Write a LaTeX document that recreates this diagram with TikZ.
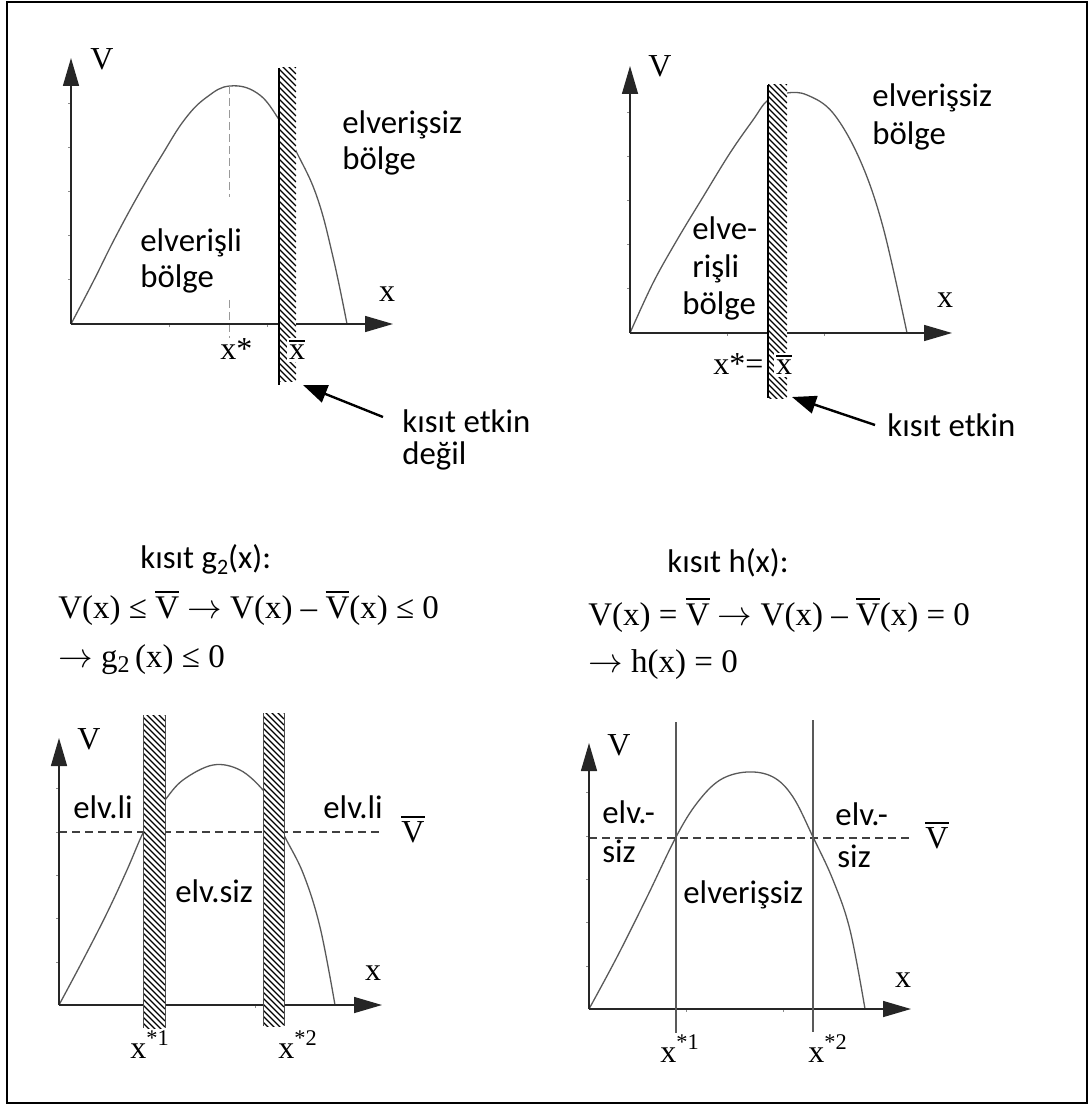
\documentclass[tikz,border=0pt]{standalone}
\usepackage{fontspec}
\setmainfont{Liberation Serif}
\newfontfamily\sansf{Carlito}
\usetikzlibrary{arrows.meta}

\newcommand{\barred}[1]{\leavevmode\setbox0\hbox{#1}\rlap{\raisebox{\dimexpr\ht0+1.6pt\relax}{\rule{\wd0}{0.9pt}}}\box0}
\newcommand{\lowtwo}{\raisebox{-0.35ex}{\fontsize{12}{12}\selectfont 2}}
\newcommand{\rarr}{\ensuremath{\rightarrow}}

\tikzset{
 px/.style={x=0.5pt,y=-0.5pt},
 axis/.style={draw=black!85, line width=0.75pt, -{Triangle[length=14pt,width=8pt]}},
 curve/.style={draw=black!65, line width=0.65pt},
 tickmark/.style={draw=black!45, line width=0.5pt},
 hatchline/.style={draw=black, line width=0.65pt},
 wall/.style={draw=black, line width=1.25pt},
 bandedge/.style={draw=black!70, line width=0.4pt},
 lbl/.style={font=\sansf\fontsize{16.4}{18}\selectfont, inner sep=0pt, anchor=base west},
 mlbl/.style={font=\fontsize{16}{18}\selectfont, inner sep=0pt, anchor=base},
 mlblw/.style={font=\fontsize{16}{18}\selectfont, inner sep=0pt, anchor=base west},
 frm/.style={font=\fontsize{16.5}{18}\selectfont, inner sep=0pt, anchor=base west},
 guide/.style={draw=black!40, line width=0.5pt, dash pattern=on 4pt off 2pt},
 vbar/.style={draw=black!75, line width=0.6pt, dash pattern=on 4pt off 2.5pt},
 pointer/.style={draw=black, line width=1.2pt, -{Triangle[length=12pt,width=9pt]}},
 vline/.style={draw=black!65, line width=0.8pt},
}

\newcommand{\hatchband}[4]{%
 \begin{scope}
 \clip (#1,#2) rectangle (#3,#4);
 \fill[white] (#1,#2) rectangle (#3,#4);
 \pgfmathsetmacro{\hbw}{#3-#1}
 \pgfmathsetmacro{\hbs}{#2-\hbw}
 \pgfmathsetmacro{\hbn}{#2-\hbw+6}
 \foreach \k in {\hbs,\hbn,...,#4} \draw[hatchline] (#1,\k) -- ++(\hbw,\hbw);
 \end{scope}}

\begin{document}
\begin{tikzpicture}[px]
\useasboundingbox (0,0) rectangle (1088,1106);
\draw[line width=1pt] (7,2) rectangle (1087,1103);

% ---------------- top-left panel
\coordinate (tlO) at (71,324);
\coordinate (tlY) at (71,58);
\coordinate (tlX) at (393,324);
\foreach \t in {104,148,192,236,280} \draw[tickmark] (71,\t) -- ++(-3,0);
\foreach \t in {169,267} \draw[tickmark] (\t,324) -- ++(0,3);
\draw[curve] plot[smooth,tension=0.7] coordinates {(71,324) (93,282) (115,238) (140,192) (162,155) (185,119) (207,97) (230,86) (257,93) (278,118) (297,153) (317,197) (333,257) (347,324)};
\draw[guide] (229,86) -- (229,197);
\draw[guide] (229,300) -- (229,338);
\draw[axis] (tlO) -- (tlY);
\draw[axis] (tlO) -- (tlX);
\hatchband{279}{68}{296}{382}
\draw[wall] (279,68) -- (279,385);
\node[mlblw] (tlV) at (90,70) {V};
\node[mlbl] (tlx) at (387,302) {x};
\node[mlblw] (tlxs) at (220,360) {x*};
\node[mlbl, fill=white, inner sep=1pt] (tlxb) at (297,360) {\barred{x}};
\node[lbl] (tlu1) at (342,134) {elverişsiz};
\node[lbl] (tlu2) at (342,170) {bölge};
\node[lbl] (tlf1) at (140,252) {elverişli};
\node[lbl] (tlf2) at (140,288) {bölge};
\node[lbl] (tlk1) at (402,432) {kısıt etkin};
\node[lbl] (tlk2) at (402,464) {değil};
\coordinate (tlas) at (383,417);
\coordinate (tlae) at (303,385);
\draw[pointer] (tlas) -- (tlae);

% ---------------- top-right panel
\coordinate (trO) at (630,333);
\coordinate (trY) at (630,66);
\coordinate (trX) at (952,333);
\foreach \t in {113,157,201,245,289} \draw[tickmark] (630,\t) -- ++(-3,0);
\foreach \t in {727,824} \draw[tickmark] (\t,333) -- ++(0,3);
\draw[curve] plot[smooth,tension=0.6] coordinates {(630,333) (653,283) (677,240) (703,197) (730,153) (753,120) (768,100) (787,93) (807,95) (833,113) (860,160) (883,227) (907,333)};
\draw[axis] (trO) -- (trY);
\draw[axis] (trO) -- (trX);
\hatchband{768}{85}{787}{398}
\draw[wall] (768,85) -- (768,398);
\node[mlblw] (trV) at (648,77) {V};
\node[mlbl] (trx) at (945,308) {x};
\node[mlblw] (trxs) at (713,375) {x*=};
\node[mlbl, fill=white, inner sep=1pt] (trxb) at (784,375) {\barred{x}};
\node[lbl] (tru1) at (872,107) {elverişsiz};
\node[lbl] (tru2) at (872,145) {bölge};
\node[lbl] (trf1) at (692,240) {elve-};
\node[lbl] (trf2) at (692,278) {rişli};
\node[lbl] (trf3) at (682,315) {bölge};
\node[lbl] (trk1) at (887,437) {kısıt etkin};
\coordinate (tras) at (875,425);
\coordinate (trae) at (792,397);
\draw[pointer] (tras) -- (trae);

% ---------------- formulas
\node[lbl] (fl0) at (140,568) {kısıt g\raisebox{-0.4ex}{\fontsize{11}{11}\selectfont 2}(x):};
\node[frm] (fl1) at (58,618) {V(x) ≤ \barred{V}\ \rarr{} V(x) – \barred{V}(x) ≤ 0};
\node[frm] (fl2) at (58,667) {\rarr{} g\lowtwo\,(x) ≤ 0};
\node[lbl] (fr0) at (667,572) {kısıt h(x):};
\node[frm] (fr1) at (588,625) {V(x) = \barred{V}\ \rarr{} V(x) – \barred{V}(x) = 0};
\node[frm] (fr2) at (588,672) {\rarr{} h(x) = 0};

% ---------------- bottom-left panel
\coordinate (blO) at (59,1005);
\coordinate (blY) at (59,738);
\coordinate (blX) at (382,1005);
\foreach \t in {788,832,875,918,962} \draw[tickmark] (59,\t) -- ++(-3,0);
\foreach \t in {255} \draw[tickmark] (\t,1005) -- ++(0,3);
\draw[curve] plot[smooth,tension=0.6] coordinates {(59,1005) (83,960) (107,913) (127,870) (143,833) (155,814) (165,800) (183,780) (213,765) (240,770) (263,790) (275,810) (283,833) (303,873) (320,927) (335,1005)};
\draw[vbar] (59,832) -- (382,832);
\draw[axis] (blO) -- (blY);
\draw[axis] (blO) -- (blX);
\hatchband{143}{715}{165}{1028}
\draw[bandedge] (143,715) -- (143,1028);
\draw[bandedge] (165,715) -- (165,1028);
\hatchband{263}{713}{284}{1026}
\draw[bandedge] (263,713) -- (263,1026);
\draw[bandedge] (284,713) -- (284,1026);
\node[mlblw] (blV) at (77,749) {V};
\node[mlbl] (blx) at (373,980) {x};
\node[mlbl] (blVb) at (413,842) {\barred{V}};
\node[mlblw] (blx1) at (130,1058) {x\textsuperscript{*1}};
\node[mlblw] (blx2) at (278,1058) {x\textsuperscript{*2}};
\node[lbl] (bll1) at (73,818) {elv.li};
\node[lbl] (bll2) at (323,818) {elv.li};
\node[lbl] (bls) at (175,902) {elv.siz};

% ---------------- bottom-right panel
\coordinate (brO) at (589,1009);
\coordinate (brY) at (589,743);
\coordinate (brX) at (911,1009);
\foreach \t in {792,836,879,922,966} \draw[tickmark] (589,\t) -- ++(-3,0);
\foreach \t in {686,783} \draw[tickmark] (\t,1009) -- ++(0,3);
\draw[curve] plot[smooth,tension=0.6] coordinates {(589,1009) (617,957) (647,897) (676,837) (697,803) (720,780) (747,772) (773,777) (793,797) (813,837) (833,880) (850,930) (865,1009)};
\draw[vbar] (589,838) -- (910,838);
\draw[axis] (brO) -- (brY);
\draw[axis] (brO) -- (brX);
\draw[vline] (676,722) -- (676,1033);
\draw[vline] (813,720) -- (813,1032);
\node[mlblw] (brV) at (607,755) {V};
\node[mlbl] (brx) at (903,987) {x};
\node[mlbl] (brVb) at (937,848) {\barred{V}};
\node[mlblw] (brx1) at (660,1062) {x\textsuperscript{*1}};
\node[mlblw] (brx2) at (808,1062) {x\textsuperscript{*2}};
\node[lbl] (brl1) at (602,823) {elv.-};
\node[lbl] (brl2) at (602,862) {siz};
\node[lbl] (brr1) at (835,825) {elv.-};
\node[lbl] (brr2) at (837,867) {siz};
\node[lbl] (brs) at (683,903) {elverişsiz};
\end{tikzpicture}
\end{document}
